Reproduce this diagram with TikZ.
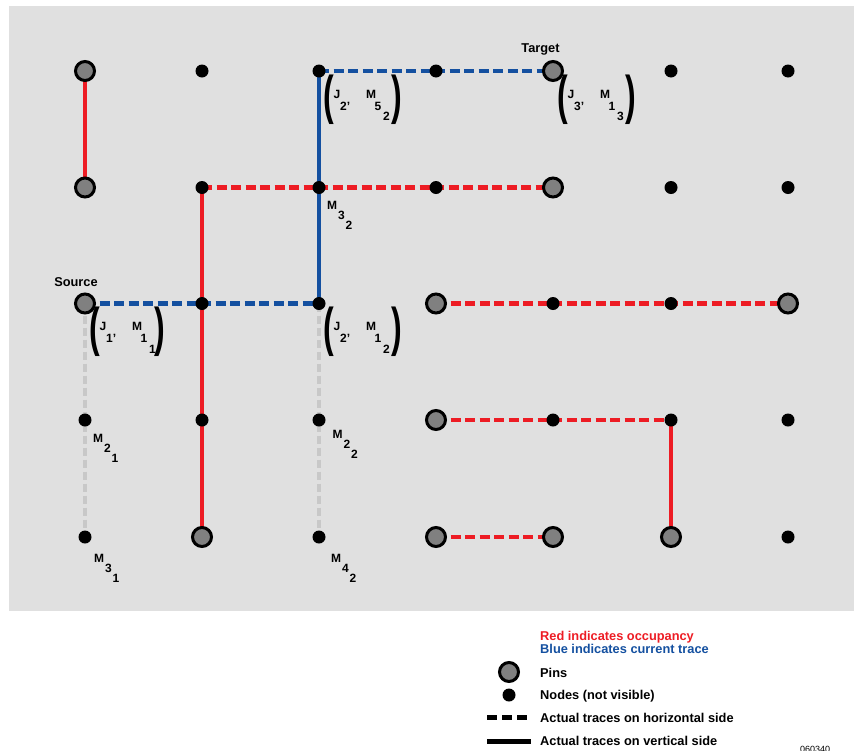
\documentclass[tikz,border=0pt]{standalone}
\usepackage{fontspec}
\setmainfont{Liberation Sans}
\usetikzlibrary{calc}
\definecolor{bgc}{HTML}{E0E0E0}
\definecolor{occ}{HTML}{ED1C24}
\definecolor{cur}{HTML}{1450A0}
\definecolor{pinfill}{HTML}{808080}
\definecolor{freec}{HTML}{C8C8C8}
\pgfdeclarelayer{back}
\pgfdeclarelayer{traces}
\pgfsetlayers{back,traces,main}
\tikzset{
  pin/.style={circle, draw=black, line width=3pt, fill=pinfill, minimum size=19pt, inner sep=0pt},
  dot/.style={circle, fill=black, minimum size=13pt, inner sep=0pt},
  tr/.style={line width=4.5pt},
  hz/.style={tr, dash pattern=on 10pt off 4.5pt},
  fr/.style={tr, draw=freec, dash pattern=on 8pt off 4pt},
  lbl/.style={font=\fontsize{12}{14}\selectfont\bfseries, inner sep=0pt, anchor=base west},
  big/.style={font=\fontsize{12.8}{15}\selectfont\bfseries, inner sep=0pt},
  paren/.style={font=\fontsize{40}{40}\selectfont\bfseries, inner sep=0pt},
}
\newcommand{\plab}[5]{%
  \node[paren] (#1-lp) at ($(#1)+(10,28.5)$) {\scalebox{0.8}[1.33]{(}};
  \node[lbl] (#1-j) at ($(#1)+(14.5,27)$) {J};
  \node[lbl] (#1-js) at ($(#1)+(21,39)$) {#2’};
  \node[lbl] (#1-m) at ($(#1)+(47,27)$) {M};
  \node[lbl] (#1-ms) at ($(#1)+(55.5,39)$) {#3};
  \node[lbl] (#1-mss) at ($(#1)+(64,49.5)$) {#4};
  \node[paren] (#1-rp) at ($(#1)+(#5,28.5)$) {\scalebox{0.8}[1.33]{)}};
}
\newcommand{\mlab}[5]{%
  \node[lbl] (#1-m) at ($(#1)+(#2,#3)$) {M};
  \node[lbl] (#1-ms) at ($(#1)+(#2,#3)+(11,10)$) {#4};
  \node[lbl] (#1-mss) at ($(#1)+(#2,#3)+(18.5,20)$) {#5};
}
\begin{document}
\begin{tikzpicture}[x=1pt,y=-1pt]
\useasboundingbox (0,0) rectangle (854,750);
\begin{pgfonlayer}{back}
  \fill[bgc] (9,6) rectangle (854,611);
\end{pgfonlayer}
% row 0
\node[pin] (n00) at (85,71) {};
\node[dot] (n10) at (202,71) {};
\node[dot] (n20) at (319,71) {};
\node[dot] (n30) at (436,71) {};
\node[pin] (n40) at (553,71) {};
\node[dot] (n50) at (671,71) {};
\node[dot] (n60) at (788,71) {};
% row 1
\node[pin] (n01) at (85,187.5) {};
\node[dot] (n11) at (202,187.5) {};
\node[dot] (n21) at (319,187.5) {};
\node[dot] (n31) at (436,187.5) {};
\node[pin] (n41) at (553,187.5) {};
\node[dot] (n51) at (671,187.5) {};
\node[dot] (n61) at (788,187.5) {};
% row 2
\node[pin] (n02) at (85,303.5) {};
\node[dot] (n12) at (202,303.5) {};
\node[dot] (n22) at (319,303.5) {};
\node[pin] (n32) at (436,303.5) {};
\node[dot] (n42) at (553,303.5) {};
\node[dot] (n52) at (671,303.5) {};
\node[pin] (n62) at (788,303.5) {};
% row 3
\node[dot] (n03) at (85,420) {};
\node[dot] (n13) at (202,420) {};
\node[dot] (n23) at (319,420) {};
\node[pin] (n33) at (436,420) {};
\node[dot] (n43) at (553,420) {};
\node[dot] (n53) at (671,420) {};
\node[dot] (n63) at (788,420) {};
% row 4
\node[dot] (n04) at (85,537) {};
\node[pin] (n14) at (202,537) {};
\node[dot] (n24) at (319,537) {};
\node[pin] (n34) at (436,537) {};
\node[pin] (n44) at (553,537) {};
\node[pin] (n54) at (671,537) {};
\node[dot] (n64) at (788,537) {};

\begin{pgfonlayer}{traces}
  % free (unused) vertical paths
  \draw[fr] (n02.center) -- (n04.center);
  \draw[fr] (n22.center) -- (n24.center);
  % occupancy
  \draw[tr, occ] (n00.center) -- (n01.center);
  \draw[hz, occ] (n11.center) -- (n41.center);
  \draw[tr, occ] (n11.center) -- (n14.center);
  \draw[hz, occ] (n32.center) -- (n62.center);
  \draw[hz, occ] (n33.center) -- (n53.center);
  \draw[tr, occ] (n53.center) -- (n54.center);
  \draw[hz, occ] (n34.center) -- (n44.center);
  % current trace
  \draw[hz, cur] (n02.center) -- (n22.center);
  \draw[tr, cur] (n22.center) -- (n20.center);
  \draw[hz, cur] (n20.center) -- (n40.center);
\end{pgfonlayer}

\node[big, anchor=base] (src) at (76,286) {Source};
\node[big, anchor=base] (tgt) at (540.5,52.5) {Target};

\plab{n02}{1}{1}{1}{75}
\plab{n22}{2}{1}{2}{78}
\plab{n20}{2}{5}{2}{78}
\plab{n40}{3}{1}{3}{78}

\mlab{n21}{8}{22}{3}{2}
\mlab{n03}{8}{22}{2}{1}
\mlab{n23}{13.5}{18.5}{2}{2}
\mlab{n04}{9}{25}{3}{1}
\mlab{n24}{12}{25}{4}{2}

% legend
\node[big, anchor=base west, text=occ] (lg1) at (540,640) {Red indicates occupancy};
\node[big, anchor=base west, text=cur] (lg2) at (540,653.5) {Blue indicates current trace};
\node[pin] (lgpin) at (509,672) {};
\node[big, anchor=base west] (lg3) at (540,677) {Pins};
\node[dot] (lgdot) at (509,695) {};
\node[big, anchor=base west] (lg4) at (540,699) {Nodes (not visible)};
\coordinate (h1) at (487,717.5);
\coordinate (h2) at (531,717.5);
\draw[tr, dash pattern=on 10pt off 5pt] (h1) -- (h2);
\node[big, anchor=base west] (lg5) at (540,722) {Actual traces on horizontal side};
\coordinate (v1) at (487,741.5);
\coordinate (v2) at (531,741.5);
\draw[tr] (v1) -- (v2);
\node[big, anchor=base west] (lg6) at (540,745) {Actual traces on vertical side};
\node[font=\fontsize{9}{10}\selectfont, inner sep=0pt, anchor=north west] (code) at (800,746) {060340};
\end{tikzpicture}
\end{document}
